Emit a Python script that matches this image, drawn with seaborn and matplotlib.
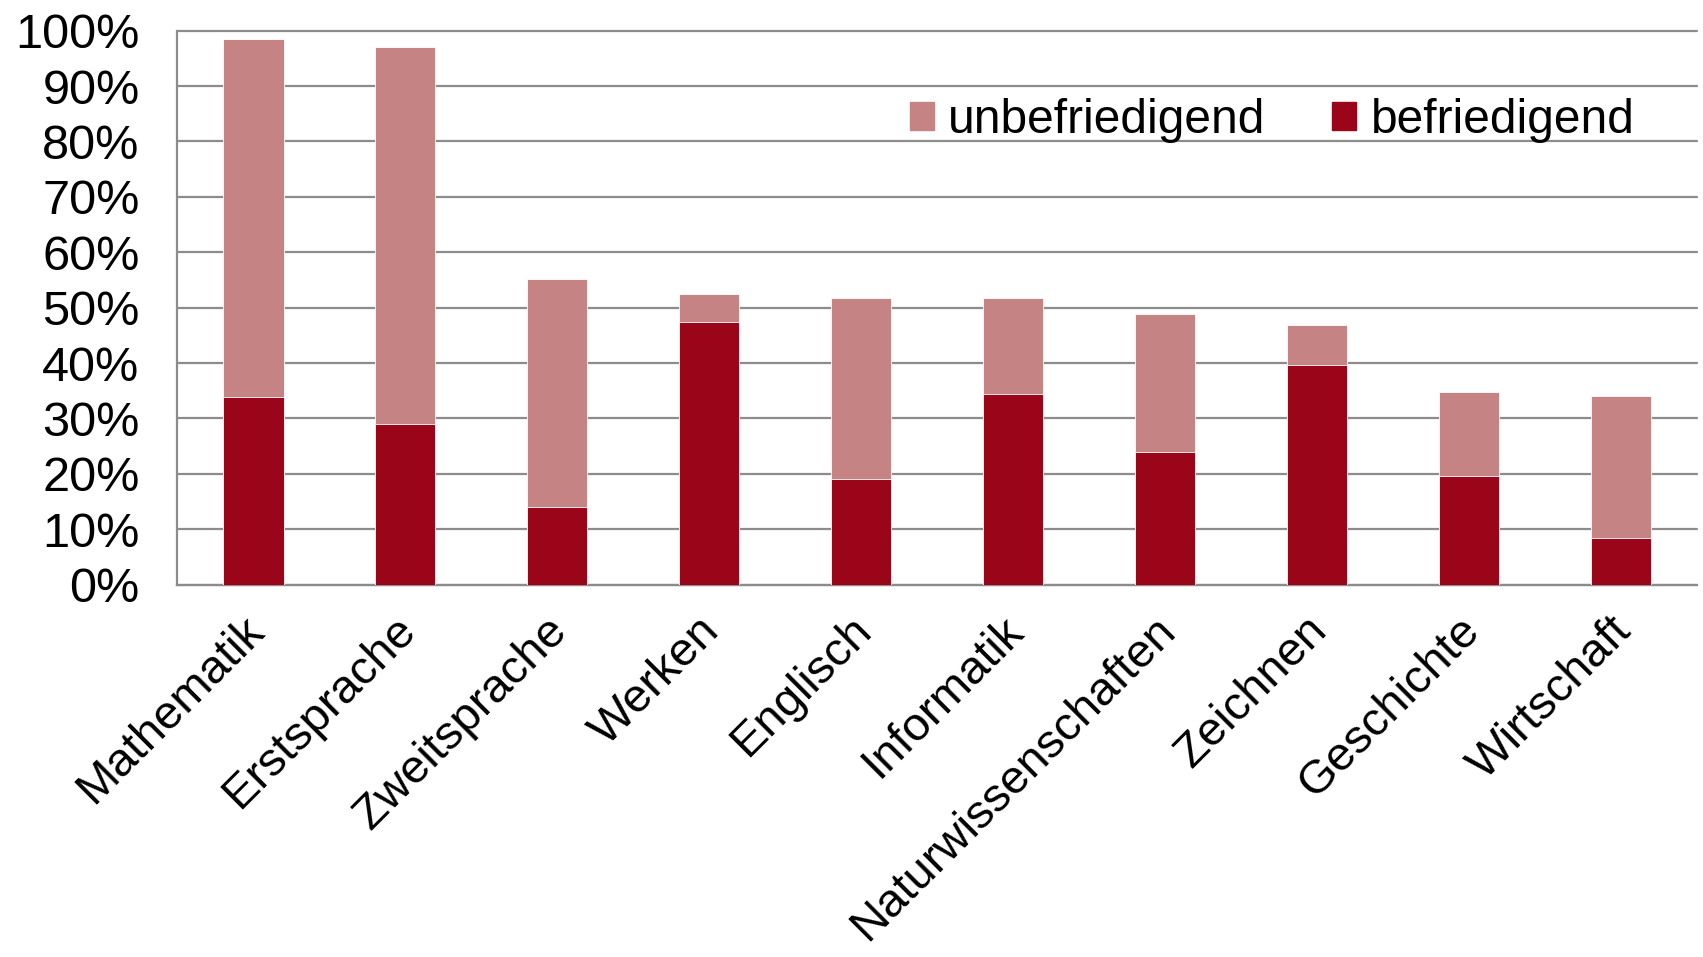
import pandas as pd
import seaborn as sns
import matplotlib.pyplot as plt
from matplotlib.ticker import PercentFormatter, FixedLocator
from matplotlib.patches import Patch
from matplotlib.transforms import ScaledTranslation

# Data (percent)
faecher = ['Mathematik', 'Erstsprache', 'Zweitsprache', 'Werken', 'Englisch',
           'Informatik', 'Naturwissenschaften', 'Zeichnen', 'Geschichte', 'Wirtschaft']
befriedigend = [33.9, 29.0, 14.0, 47.4, 19.0, 34.5, 23.9, 39.7, 19.7, 8.4]
unbefriedigend = [64.6, 68.1, 41.2, 5.0, 32.7, 17.2, 25.0, 7.1, 15.0, 25.6]

col_bef = '#9B0519'
col_unbef = '#C68384'
grid_col = '#8C8C8C'

df = pd.DataFrame({'fach': faecher, 'bef': befriedigend, 'unbef': unbefriedigend})
df['gesamt'] = df['bef'] + df['unbef']

sns.set_style('white')
plt.rcParams['font.family'] = ['Liberation Sans', 'DejaVu Sans']
plt.rcParams['text.color'] = 'black'

fig = plt.figure(figsize=(17.03, 9.57), dpi=100)
ax = fig.add_axes([0.104, 0.389, 0.8925, 0.579])

# stacked bars: total (light) behind, befriedigend (dark) in front
sns.barplot(data=df, x='fach', y='gesamt', color=col_unbef, width=0.4,
            saturation=1, edgecolor='white', linewidth=0.6, ax=ax, zorder=3)
sns.barplot(data=df, x='fach', y='bef', color=col_bef, width=0.4,
            saturation=1, edgecolor='white', linewidth=0.6, ax=ax, zorder=4)

ax.set_ylim(0, 100)
ax.set_xlim(-0.5, len(faecher) - 0.5)
ax.set_yticks(range(0, 101, 10))
ax.yaxis.set_major_formatter(PercentFormatter(xmax=100, decimals=0))
ax.set_xlabel('')
ax.set_ylabel('')

# gridlines
ax.yaxis.grid(True, color=grid_col, linewidth=1.6, zorder=0)
for line in ax.get_ygridlines():
    line.set_clip_on(False)
ax.set_axisbelow(True)

for s in ['top', 'right']:
    ax.spines[s].set_visible(False)
for s in ['left', 'bottom']:
    ax.spines[s].set_color(grid_col)
    ax.spines[s].set_linewidth(1.6)

# x ticks between categories, labels at centers
ax.xaxis.set_minor_locator(FixedLocator([i - 0.5 for i in range(len(faecher) + 1)]))
ax.tick_params(axis='x', which='major', length=0, pad=14)
ax.tick_params(axis='x', which='minor', length=14, width=1.6, color=grid_col, direction='out')
ax.tick_params(axis='y', length=14, width=1.6, color=grid_col, direction='out',
               pad=13, labelsize=35)
ax.tick_params(axis='x', labelsize=34)
ax.tick_params(axis='both', labelcolor='black')
ax.set_xticks(range(len(faecher)))
ax.set_xticklabels(faecher, rotation=45, ha='right', rotation_mode='anchor')

shift = ScaledTranslation(-12 / 100, -4 / 100, fig.dpi_scale_trans)
for lab in ax.get_xticklabels():
    lab.set_transform(lab.get_transform() + shift)

handles = [Patch(color=col_unbef), Patch(color=col_bef)]
fig.legend(handles, ['unbefriedigend', 'befriedigend'], loc='center',
           bbox_to_anchor=(0.747, 0.874), ncol=2, frameon=False, fontsize=34.5,
           labelcolor='black', handlelength=0.5, handleheight=0.5,
           handletextpad=0.3, columnspacing=1.4)

fig.savefig('out.png', dpi=100)
